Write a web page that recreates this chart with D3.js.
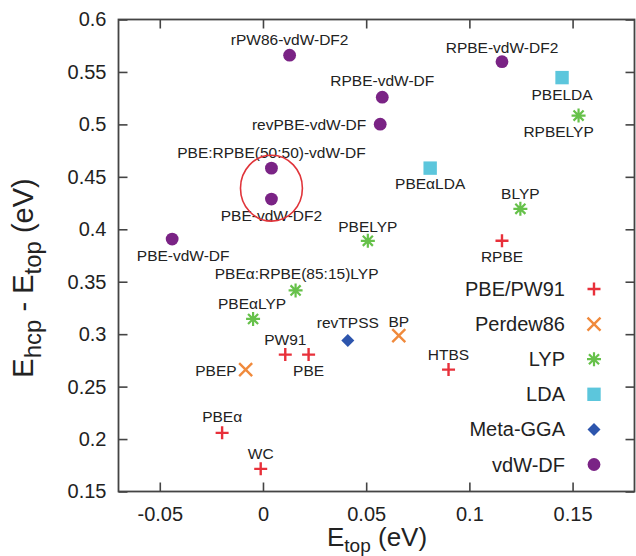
<!DOCTYPE html>
<html>
<head>
<meta charset="utf-8">
<script src="https://cdn.jsdelivr.net/npm/d3@7"></script>
<style>
  body { margin: 0; background: #fff; }
  svg text { font-family: "Liberation Sans", Arial, Helvetica, sans-serif; }
</style>
</head>
<body>
<div id="chart"></div>
<script>
'use strict';

// ---- data ----
var pbePW91 = [
	{name: 'RPBE', x: 0.1158, y: 0.389},
	{name: 'PW91', x: 0.0108, y: 0.2805},
	{name: 'PBE', x: 0.0221, y: 0.2805},
	{name: 'HTBS', x: 0.0899, y: 0.2662},
	{name: 'PBEα', x: -0.0198, y: 0.2059},
	{name: 'WC', x: -0.0011, y: 0.1716}
];
var perdew86 = [
	{name: 'PBEP', x: -0.0084, y: 0.2662},
	{name: 'BP', x: 0.0658, y: 0.2986}
];
var lyp = [
	{name: 'RPBELYP', x: 0.1529, y: 0.5084},
	{name: 'BLYP', x: 0.1247, y: 0.4195},
	{name: 'PBELYP', x: 0.0508, y: 0.389},
	{name: 'PBEα:RPBE(85:15)LYP', x: 0.0158, y: 0.3417},
	{name: 'PBEαLYP', x: -0.0048, y: 0.3145}
];
var lda = [
	{name: 'PBELDA', x: 0.1449, y: 0.5446},
	{name: 'PBEαLDA', x: 0.081, y: 0.4583}
];
var metaGGA = [
	{name: 'revTPSS', x: 0.0411, y: 0.294}
];
var vdwDF = [
	{name: 'rPW86-vdW-DF2', x: 0.0129, y: 0.566},
	{name: 'RPBE-vdW-DF2', x: 0.1158, y: 0.5598},
	{name: 'RPBE-vdW-DF', x: 0.0578, y: 0.5259},
	{name: 'revPBE-vdW-DF', x: 0.0568, y: 0.5002},
	{name: 'PBE:RPBE(50:50)-vdW-DF', x: 0.0041, y: 0.4583},
	{name: 'PBE-vdW-DF2', x: 0.0041, y: 0.4288},
	{name: 'PBE-vdW-DF', x: -0.044, y: 0.3907}
];

var seriesNames = ['PBE/PW91', 'Perdew86', 'LYP', 'LDA', 'Meta-GGA', 'vdW-DF'];
var xTicks = [-0.05, 0, 0.05, 0.1, 0.15];
var yTicks = [0.15, 0.2, 0.25, 0.3, 0.35, 0.4, 0.45, 0.5, 0.55, 0.6];
var xDomain = [-0.07, 0.18];
var yDomain = [0.15, 0.6];
// circled pair (data units)
var highlight = {cx: 0.0041, cy: 0.4392, rx: 0.015, ry: 0.0314};

// ---- layout / style ----
var series = [
	{name: seriesNames[0], data: pbePW91, shape: 'plus', color: '#e8303a'},
	{name: seriesNames[1], data: perdew86, shape: 'cross', color: '#f08a3c'},
	{name: seriesNames[2], data: lyp, shape: 'star', color: '#66c14a'},
	{name: seriesNames[3], data: lda, shape: 'square', color: '#5cc6dc'},
	{name: seriesNames[4], data: metaGGA, shape: 'diamond', color: '#2d55ad'},
	{name: seriesNames[5], data: vdwDF, shape: 'circle', color: '#7a2385'}
];

// label placement: [dx, dy, anchor]
var A = -10, B = 21;
var labelPos = {
	'RPBE': [0, B, 'middle'],
	'PW91': [0, A, 'middle'],
	'PBE': [0, B, 'middle'],
	'HTBS': [0, A, 'middle'],
	'PBEα': [0, A - 1, 'middle'],
	'WC': [0, A, 'middle'],
	'PBEP': [-9, 6, 'end'],
	'BP': [0, A + 1, 'middle'],
	'RPBELYP': [-20, B, 'middle'],
	'BLYP': [0, A, 'middle'],
	'PBELYP': [0, A + 1, 'middle'],
	'PBEα:RPBE(85:15)LYP': [1, A - 1, 'middle'],
	'PBEαLYP': [-1, A, 'middle'],
	'PBELDA': [0, B + 1, 'middle'],
	'PBEαLDA': [0, B, 'middle'],
	'revTPSS': [0, A - 2, 'middle'],
	'rPW86-vdW-DF2': [0, A, 'middle'],
	'RPBE-vdW-DF2': [0, A + 1, 'middle'],
	'RPBE-vdW-DF': [0, A - 1, 'middle'],
	'revPBE-vdW-DF': [-14, 6, 'end'],
	'PBE:RPBE(50:50)-vdW-DF': [0, A, 'middle'],
	'PBE-vdW-DF2': [0, B + 1, 'middle'],
	'PBE-vdW-DF': [11, B + 1, 'middle']
};

var W = 636, H = 556;
var plot = {left: 118.5, right: 634.5, top: 19.5, bottom: 491.5};

var svg = d3.select('#chart').append('svg')
	.attr('width', W)
	.attr('height', H);

var x = d3.scaleLinear().domain(xDomain).range([plot.left, plot.right]);
var y = d3.scaleLinear().domain(yDomain).range([plot.bottom, plot.top]);

var axisColor = '#444';
var fmt = function(d){ return String(d); };

function styleAxis(g){
	g.select('.domain').remove();
	g.selectAll('.tick line').attr('stroke', axisColor).attr('stroke-width', 1.6);
	g.selectAll('.tick text')
		.attr('fill', '#222')
		.style('font-size', '20px');
}

svg.append('g')
	.attr('transform', 'translate(0,' + plot.bottom + ')')
	.call(d3.axisBottom(x).tickValues(xTicks).tickFormat(fmt).tickSizeInner(-9).tickSizeOuter(0).tickPadding(15))
	.call(styleAxis);

svg.append('g')
	.attr('transform', 'translate(0,' + plot.top + ')')
	.call(d3.axisTop(x).tickValues(xTicks).tickFormat('').tickSizeInner(-9).tickSizeOuter(0))
	.call(styleAxis);

svg.append('g')
	.attr('transform', 'translate(' + plot.left + ',0)')
	.call(d3.axisLeft(y).tickValues(yTicks).tickFormat(fmt).tickSizeInner(-9).tickSizeOuter(0).tickPadding(12))
	.call(styleAxis);

svg.append('g')
	.attr('transform', 'translate(' + plot.right + ',0)')
	.call(d3.axisRight(y).tickValues(yTicks).tickFormat('').tickSizeInner(-9).tickSizeOuter(0))
	.call(styleAxis);

// frame
svg.append('rect')
	.attr('x', plot.left)
	.attr('y', plot.top)
	.attr('width', plot.right - plot.left)
	.attr('height', plot.bottom - plot.top)
	.attr('fill', 'none')
	.attr('stroke', axisColor)
	.attr('stroke-width', 1.8);

// axis titles
var xt = svg.append('text')
	.attr('x', 327)
	.attr('y', 546)
	.attr('fill', '#222')
	.style('font-size', '26px');
xt.append('tspan').text('E');
xt.append('tspan').attr('dy', 6).style('font-size', '19px').text('top');
xt.append('tspan').attr('dy', -6).text(' (eV)');

var yt = svg.append('text')
	.attr('transform', 'translate(33,278) rotate(-90)')
	.attr('text-anchor', 'middle')
	.attr('fill', '#222')
	.style('font-size', '29px');
yt.append('tspan').text('E');
yt.append('tspan').attr('dy', 8).style('font-size', '24px').text('hcp');
yt.append('tspan').attr('dy', -8).text(' - E');
yt.append('tspan').attr('dy', 8).style('font-size', '24px').text('top');
yt.append('tspan').attr('dy', -8).text(' (eV)');

// markers
function drawMarker(g, shape, color){
	var s;
	if (shape === 'plus') {
		s = 6.5;
		g.append('path').attr('d', 'M' + (-s) + ',0H' + s + 'M0,' + (-s) + 'V' + s)
			.attr('stroke', color).attr('stroke-width', 2.4).attr('fill', 'none');
	} else if (shape === 'cross') {
		s = 6.5;
		g.append('path').attr('d', 'M' + (-s) + ',' + (-s) + 'L' + s + ',' + s + 'M' + (-s) + ',' + s + 'L' + s + ',' + (-s))
			.attr('stroke', color).attr('stroke-width', 2.4).attr('fill', 'none');
	} else if (shape === 'star') {
		s = 7;
		var d2 = s * 0.72;
		g.append('path').attr('d', 'M' + (-s) + ',0H' + s + 'M0,' + (-s) + 'V' + s +
				'M' + (-d2) + ',' + (-d2) + 'L' + d2 + ',' + d2 + 'M' + (-d2) + ',' + d2 + 'L' + d2 + ',' + (-d2))
			.attr('stroke', color).attr('stroke-width', 2.2).attr('fill', 'none');
	} else if (shape === 'square') {
		s = 6.7;
		g.append('rect').attr('x', -s).attr('y', -s).attr('width', 2 * s).attr('height', 2 * s)
			.attr('fill', color);
	} else if (shape === 'diamond') {
		s = 6.5;
		g.append('path').attr('d', 'M0,' + (-s) + 'L' + s + ',0L0,' + s + 'L' + (-s) + ',0Z')
			.attr('fill', color);
	} else {
		g.append('circle').attr('r', 6.4).attr('fill', color);
	}
}

var points = svg.append('g');

series.forEach(function(sr){
	sr.data.forEach(function(d){
		var g = points.append('g')
			.attr('transform', 'translate(' + x(d.x) + ',' + y(d.y) + ')');
		drawMarker(g, sr.shape, sr.color);
		var p = labelPos[d.name] || [0, -10, 'middle'];
		g.append('text')
			.attr('x', p[0])
			.attr('y', p[1])
			.attr('text-anchor', p[2])
			.attr('fill', '#222')
			.style('font-size', '15.5px')
			.text(d.name);
	});
});

// highlight ellipse around the two vdW-DF points
svg.append('ellipse')
	.attr('cx', x(highlight.cx))
	.attr('cy', y(highlight.cy))
	.attr('rx', x(highlight.cx + highlight.rx) - x(highlight.cx))
	.attr('ry', y(highlight.cy) - y(highlight.cy + highlight.ry))
	.attr('fill', 'none')
	.attr('stroke', '#e0343a')
	.attr('stroke-width', 1.6);

// legend
var legend = svg.append('g');
series.forEach(function(sr, i){
	var ly = 289 + i * 35.1;
	legend.append('text')
		.attr('x', 565)
		.attr('y', ly)
		.attr('dy', '0.35em')
		.attr('text-anchor', 'end')
		.attr('fill', '#222')
		.style('font-size', '20px')
		.text(sr.name);
	var g = legend.append('g').attr('transform', 'translate(594,' + ly + ')');
	drawMarker(g, sr.shape, sr.color);
});
</script>
</body>
</html>
